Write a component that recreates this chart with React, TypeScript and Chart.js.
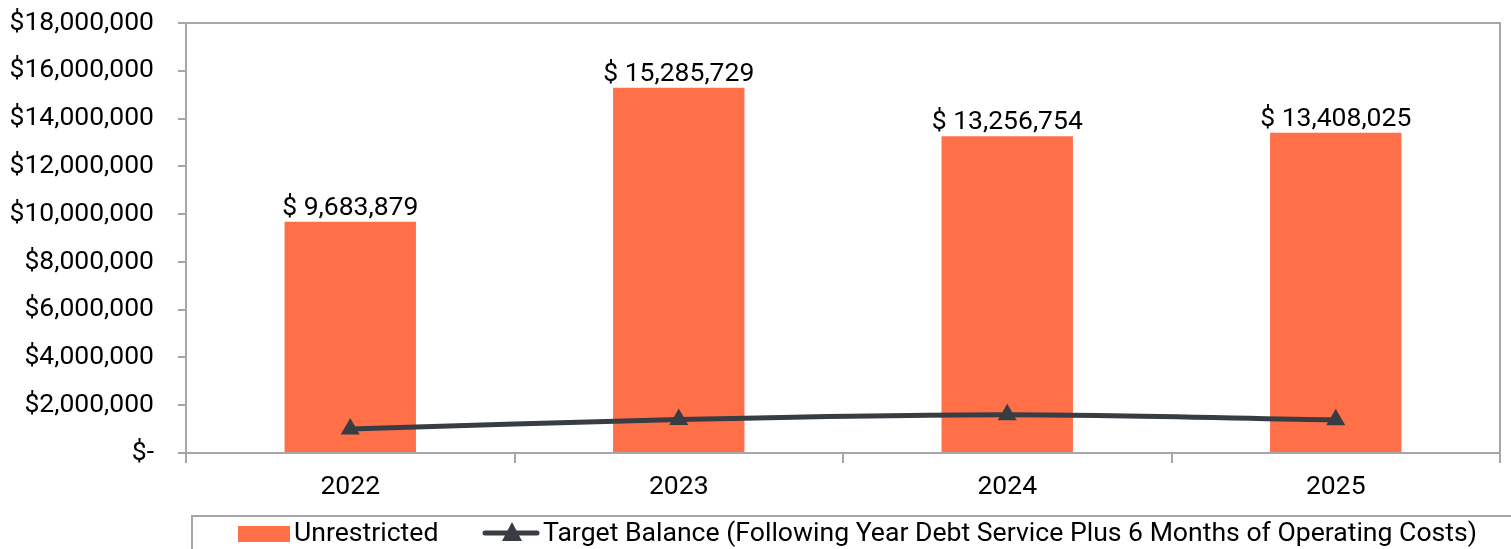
import React, { useEffect, useRef } from "react";
import { Chart, registerables } from "chart.js";

Chart.register(...registerables);

const categories = ["2022", "2023", "2024", "2025"];
const unrestricted = [9683879, 15285729, 13256754, 13408025];
const targetBalance = [1000000, 1400000, 1600000, 1390000];
const yTicks = [0, 2000000, 4000000, 6000000, 8000000, 10000000, 12000000, 14000000, 16000000, 18000000];
const seriesNames = [
  "Unrestricted",
  "Target Balance (Following Year Debt Service Plus 6 Months of Operating Costs)",
];

const ORANGE = "#FF7049";
const DARK = "#373D42";
const AXIS = "#A6A6A6";
const FONT = "Roboto";
const FS = 26.5;
const LEGEND_FS = 26.6;

const fmtMoney = (v: number) => v.toLocaleString("en-US");

const labelsPlugin = {
  id: "barLabels",
  afterDatasetsDraw(chart: any) {
    const meta = chart.getDatasetMeta(1);
    const ctx = chart.ctx;
    ctx.save();
    ctx.font = `${FS}px ${FONT}`;
    ctx.fillStyle = "#000";
    ctx.textAlign = "center";
    ctx.textBaseline = "alphabetic";
    meta.data.forEach((bar: any, i: number) => {
      ctx.fillText("$ " + fmtMoney(unrestricted[i]), bar.x, bar.y - 7);
    });
    ctx.restore();
  },
};

const framePlugin = {
  id: "frame",
  afterDraw(chart: any) {
    const { ctx, chartArea } = chart;
    ctx.save();
    ctx.strokeStyle = AXIS;
    ctx.lineWidth = 2;
    ctx.beginPath();
    ctx.moveTo(chartArea.left, chartArea.top);
    ctx.lineTo(chartArea.right, chartArea.top);
    ctx.lineTo(chartArea.right, chartArea.bottom);
    ctx.stroke();
    ctx.restore();
  },
};

const legendPlugin = {
  id: "customLegend",
  afterDraw(chart: any) {
    const ctx = chart.ctx;
    const W = chart.width;
    const H = chart.height;
    ctx.save();
    ctx.strokeStyle = AXIS;
    ctx.lineWidth = 2;
    ctx.beginPath();
    ctx.moveTo(192, H + 5);
    ctx.lineTo(192, 516);
    ctx.lineTo(W + 5, 516);
    ctx.stroke();
    const cy = 533;
    const base = 541;
    ctx.fillStyle = ORANGE;
    ctx.fillRect(238, 526, 52, 16);
    ctx.font = `${LEGEND_FS}px ${FONT}`;
    ctx.fillStyle = "#000";
    ctx.textAlign = "left";
    ctx.textBaseline = "alphabetic";
    ctx.fillText(seriesNames[0], 294, base);
    ctx.strokeStyle = DARK;
    ctx.lineWidth = 5;
    ctx.lineCap = "round";
    ctx.beginPath();
    ctx.moveTo(485, cy);
    ctx.lineTo(537, cy);
    ctx.stroke();
    ctx.fillStyle = DARK;
    ctx.beginPath();
    ctx.moveTo(512, cy - 11);
    ctx.lineTo(522, cy + 8);
    ctx.lineTo(502, cy + 8);
    ctx.closePath();
    ctx.fill();
    ctx.fillStyle = "#000";
    ctx.fillText(seriesNames[1], 543, base);
    ctx.restore();
  },
};

export default function App() {
  const ref = useRef<HTMLCanvasElement | null>(null);
  useEffect(() => {
    if (!ref.current) return;
    const chart = new Chart(ref.current, {
      type: "bar",
      data: {
        labels: categories,
        datasets: [
          {
            type: "line",
            label: seriesNames[1],
            data: targetBalance,
            borderColor: DARK,
            backgroundColor: DARK,
            borderWidth: 5,
            tension: 0.3,
            pointStyle: "triangle",
            pointRadius: 11,
            pointBackgroundColor: DARK,
            pointBorderWidth: 0,
            order: 0,
          } as any,
          {
            type: "bar",
            label: seriesNames[0],
            data: unrestricted,
            backgroundColor: ORANGE,
            categoryPercentage: 1,
            barPercentage: 0.4,
            order: 1,
          },
        ],
      },
      options: {
        responsive: false,
        animation: false,
        maintainAspectRatio: false,
        layout: { padding: { top: 23, right: 4, left: 0, bottom: 0 } },
        plugins: {
          legend: { display: false },
          tooltip: { enabled: false },
        },
        scales: {
          x: {
            grid: {
              offset: true,
              drawOnChartArea: false,
              drawTicks: true,
              tickLength: 10,
              color: AXIS,
              lineWidth: 2,
            },
            border: { color: AXIS, width: 2 },
            ticks: {
              color: "#000",
              font: { family: FONT, size: FS },
              padding: 8,
              maxRotation: 0,
            },
            afterFit(scale: any) {
              scale.height = 96;
              scale.paddingLeft = 0;
              scale.paddingRight = 0;
              scale.paddingTop = 0;
              scale.paddingBottom = 0;
            },
          },
          y: {
            min: 0,
            max: 18000000,
            afterBuildTicks(scale: any) {
              scale.ticks = yTicks.map((v) => ({ value: v }));
            },
            grid: {
              drawOnChartArea: false,
              drawTicks: true,
              tickLength: 8,
              color: AXIS,
              lineWidth: 2,
            },
            border: { color: AXIS, width: 2 },
            ticks: {
              color: "#000",
              font: { family: FONT, size: FS },
              padding: 24,
              callback: (v: any) => (Number(v) === 0 ? "$-" : "$" + fmtMoney(Number(v))),
            },
            afterFit(scale: any) {
              scale.width = 186;
              scale.paddingTop = 0;
              scale.paddingBottom = 0;
              scale.paddingLeft = 0;
              scale.paddingRight = 0;
            },
          },
        },
      },
      plugins: [labelsPlugin, framePlugin, legendPlugin],
    });
    return () => chart.destroy();
  }, []);
  return (
    <div style={{ position: "fixed", left: 0, top: 0, width: 1511, height: 549, background: "#fff" }}>
      <canvas ref={ref} width={1511} height={549} style={{ width: 1511, height: 549, display: "block" }} />
    </div>
  );
}
